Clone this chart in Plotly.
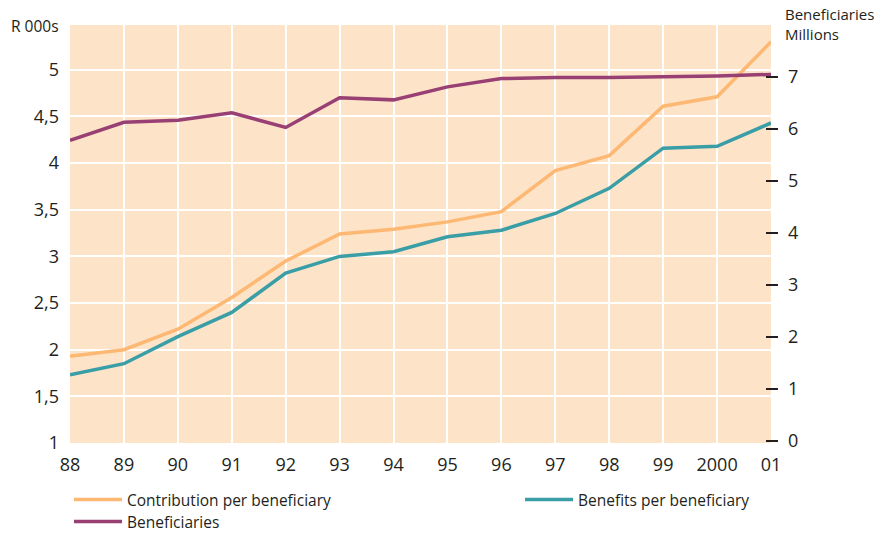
import plotly.graph_objects as go

years = ["88", "89", "90", "91", "92", "93", "94", "95", "96", "97", "98", "99", "2000", "01"]
contribution = [1.93, 2.00, 2.22, 2.56, 2.95, 3.24, 3.29, 3.37, 3.48, 3.92, 4.08, 4.61, 4.71, 5.30]
benefits = [1.73, 1.85, 2.14, 2.40, 2.82, 3.00, 3.05, 3.21, 3.28, 3.46, 3.73, 4.16, 4.18, 4.43]
beneficiaries = [5.78, 6.13, 6.17, 6.31, 6.03, 6.60, 6.56, 6.81, 6.97, 6.99, 6.99, 7.00, 7.02, 7.05]

left_ticks = [1, 1.5, 2, 2.5, 3, 3.5, 4, 4.5, 5]
left_labels = ["1", "1,5", "2", "2,5", "3", "3,5", "4", "4,5", "5"]
right_ticks = [0, 1, 2, 3, 4, 5, 6, 7]

FONT = "Open Sans"
TXT = "#231f20"
ORANGE = "#fdb873"
TEAL = "#3a9ea6"
PURPLE = "#983f74"
BG = "#fde4c9"

x = list(range(len(years)))

fig = go.Figure()
fig.add_trace(go.Scatter(x=x, y=contribution, mode="lines", name="Contribution per beneficiary",
                         line=dict(color=ORANGE, width=3.5), legend="legend"))
fig.add_trace(go.Scatter(x=x, y=benefits, mode="lines", name="Benefits per beneficiary",
                         line=dict(color=TEAL, width=3.5), legend="legend2"))
fig.add_trace(go.Scatter(x=x, y=beneficiaries, mode="lines", name="Beneficiaries",
                         line=dict(color=PURPLE, width=3.5), yaxis="y2", legend="legend3"))

def leg(xpx, top_px):
    return dict(orientation="v", xref="container", x=xpx / 879, xanchor="left",
                yref="container", y=1 - top_px / 536, yanchor="top",
                font=dict(size=15.5, family=FONT, color=TXT),
                bgcolor="rgba(0,0,0,0)", itemwidth=48, borderwidth=0)

fig.update_layout(
    width=879, height=536,
    margin=dict(l=70, r=108, t=25, b=93, autoexpand=False),
    paper_bgcolor="white",
    plot_bgcolor=BG,
    font=dict(family=FONT, color=TXT, size=18),
    showlegend=True,
    legend=leg(69, 483),
    legend2=leg(520, 483),
    legend3=leg(69, 505),
    xaxis=dict(range=[0, len(years) - 1], tickvals=x, ticktext=years,
               showgrid=True, gridcolor="white", gridwidth=2,
               zeroline=False, showline=False, ticks="", ticklabelstandoff=9,
               tickfont=dict(size=18)),
    yaxis=dict(range=[1, 5.48], tickvals=left_ticks, ticktext=left_labels,
               showgrid=True, gridcolor="white", gridwidth=2,
               zeroline=False, showline=False, ticks="", ticklabelstandoff=10,
               tickfont=dict(size=18)),
    yaxis2=dict(range=[-0.04, 8.0], tickvals=right_ticks, overlaying="y", side="right",
                anchor="free", position=0.992,
                showgrid=False, zeroline=False, showline=False,
                ticks="outside", ticklen=12, tickwidth=2, tickcolor=TXT,
                ticklabelstandoff=6, tickfont=dict(size=18)),
    annotations=[
        dict(text="R 000s", xref="paper", yref="paper", x=0, y=1, xanchor="right",
             yanchor="middle", xshift=-9, yshift=-1, showarrow=False,
             font=dict(size=15.5, family=FONT, color=TXT)),
        dict(text="Beneficiaries<br>Millions", xref="paper", yref="paper", x=1, y=1,
             xanchor="left", yanchor="middle", xshift=12, yshift=1, showarrow=False,
             align="left", font=dict(size=15, family=FONT, color=TXT)),
    ],
)

fig.write_html("out.html")
